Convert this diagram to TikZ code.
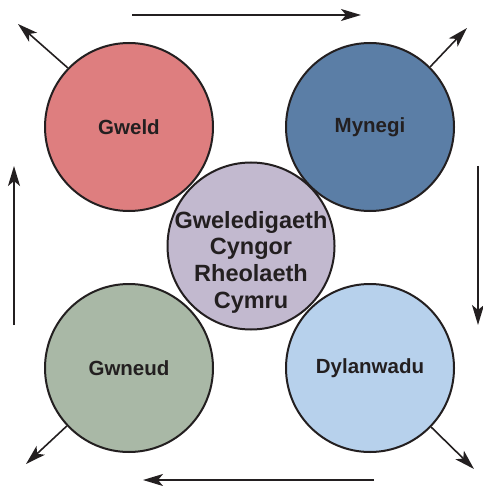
\documentclass[tikz,border=0pt]{standalone}
\usepackage{fontspec}
\setmainfont{Liberation Sans}
\usetikzlibrary{arrows.meta}
\definecolor{gweldred}{HTML}{DE7E7F}
\definecolor{mynegiblue}{HTML}{5B7EA6}
\definecolor{gwneudgreen}{HTML}{A9B8A6}
\definecolor{dylanblue}{HTML}{B7D1EC}
\definecolor{canollilac}{HTML}{C2B9CF}
\definecolor{inkgrey}{HTML}{231F20}
\begin{document}
\begin{tikzpicture}[x=1pt,y=-1pt,
    cylch/.style={circle,draw=inkgrey,line width=2pt,minimum size=168pt,inner sep=0pt,
        font=\fontsize{20.5}{26.5}\selectfont\bfseries,text=inkgrey,align=center},
    saeth/.style={draw=inkgrey,line width=1.6pt,-{Stealth[length=20pt,width=12pt,inset=5pt]}}]
    \useasboundingbox (0,0) rectangle (482,486);
    % y cylchoedd
    \node[cylch,fill=gweldred] (gweld) at (129,127) {Gweld};
    \node[cylch,fill=mynegiblue] (mynegi) at (370,127) {Mynegi};
    \node[cylch,fill=gwneudgreen] (gwneud) at (129,368) {Gwneud};
    \node[cylch,fill=dylanblue] (dylanwadu) at (370,368) {Dylanwadu};
    \node[cylch,fill=canollilac,minimum size=167pt] (canol) at (251,246) {};
    \node[text=inkgrey,align=center,inner sep=0pt,
        font=\fontsize{23.5}{26.7}\selectfont\bfseries]
        (canoltestun) at (251,262) {Gweledigaeth\\Cyngor\\Rheolaeth\\Cymru};
    % saethau o amgylch
    \coordinate (top1) at (132,15);   \coordinate (top2) at (361,15);
    \coordinate (dde1) at (478,166);  \coordinate (dde2) at (478,325);
    \coordinate (gwa1) at (374,480);  \coordinate (gwa2) at (143,480);
    \coordinate (chw1) at (14,325);   \coordinate (chw2) at (14,166);
    \foreach \a/\b in {top1/top2,dde1/dde2,gwa1/gwa2,chw1/chw2}
        {\draw[saeth] (\a) -- (\b);
        }
    % saethau croeslin
    \coordinate (tl) at (18,24);
    \coordinate (tr) at (467,28);
    \coordinate (bl) at (26,464);
    \coordinate (br) at (474,469);
    \draw[saeth] (gweld.136) -- (tl);
    \draw[saeth] (mynegi.45) -- (tr);
    \draw[saeth] (gwneud.223) -- (bl);
    \draw[saeth] (dylanwadu.-44) -- (br);
\end{tikzpicture}
\end{document}
